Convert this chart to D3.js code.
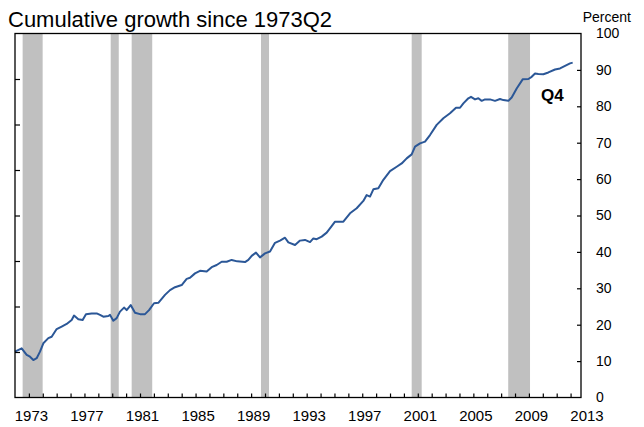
<!DOCTYPE html>
<html>
<head>
<meta charset="utf-8">
<script src="https://cdn.jsdelivr.net/npm/d3@7"></script>
<style>
  html, body { margin: 0; padding: 0; background: #fff; }
  svg { display: block; font-family: Arial, "Liberation Sans", sans-serif; }
</style>
</head>
<body>
<svg id="chart" width="644" height="427"></svg>
<script>
// ---- Data (x in axis-year units, values in percent) ----
const years = [
  1972.00, 1972.48, 1972.84, 1973.08, 1973.32, 1973.56, 1973.80, 1974.04, 1974.40, 1974.64,
  1975.00, 1975.36, 1975.72, 1976.08, 1976.25, 1976.56, 1976.87, 1977.11, 1977.52, 1977.88,
  1978.12, 1978.36, 1978.72, 1978.84, 1979.08, 1979.32, 1979.56, 1979.85, 1980.04, 1980.33,
  1980.64, 1981.00, 1981.36, 1981.65, 1982.01, 1982.32, 1982.80, 1983.16, 1983.52, 1984.00,
  1984.36, 1984.60, 1984.96, 1985.32, 1985.80, 1986.16, 1986.52, 1986.88, 1987.24, 1987.60,
  1988.00, 1988.56, 1988.80, 1989.04, 1989.35, 1989.64, 1990.00, 1990.36, 1990.72, 1991.08,
  1991.44, 1991.68, 1992.16, 1992.52, 1992.88, 1993.24, 1993.48, 1993.72, 1994.08, 1994.44,
  1994.80, 1995.04, 1995.64, 1996.12, 1996.60, 1997.08, 1997.32, 1997.56, 1997.80, 1998.16,
  1998.52, 1999.00, 1999.48, 1999.84, 2000.20, 2000.56, 2000.80, 2001.16, 2001.52, 2001.88,
  2002.36, 2002.84, 2003.32, 2003.75, 2004.04, 2004.28, 2004.64, 2004.83, 2005.12, 2005.36,
  2005.60, 2005.84, 2006.20, 2006.56, 2006.92, 2007.16, 2007.52, 2007.76, 2008.12, 2008.55,
  2008.96, 2009.20, 2009.44, 2009.68, 2010.04, 2010.40, 2010.88, 2011.24, 2011.60, 2011.96,
  2012.15
];
const growth = [
  12.6, 13.5, 11.7, 11.2, 10.3, 10.8, 12.6, 14.9, 16.3, 16.7,
  18.8, 19.5, 20.2, 21.3, 22.5, 21.5, 21.3, 22.9, 23.1, 23.1,
  22.7, 22.2, 22.4, 22.7, 21.1, 21.8, 23.6, 24.7, 24.0, 25.4,
  23.3, 22.9, 22.9, 24.0, 25.9, 26.0, 28.2, 29.5, 30.3, 30.9,
  32.6, 32.9, 34.1, 34.8, 34.6, 35.8, 36.4, 37.3, 37.3, 37.8,
  37.4, 37.2, 37.8, 38.9, 39.8, 38.5, 39.6, 40.1, 42.5, 43.1,
  43.9, 42.6, 41.9, 43.1, 43.3, 42.7, 43.7, 43.5, 44.2, 45.3,
  47.1, 48.3, 48.3, 50.6, 52.0, 54.0, 55.6, 55.2, 57.2, 57.5,
  59.8, 62.2, 63.4, 64.3, 65.7, 66.8, 68.9, 69.8, 70.3, 72.1,
  74.9, 76.7, 78.1, 79.6, 79.6, 80.8, 82.2, 82.6, 81.9, 82.2,
  81.5, 81.9, 81.9, 81.5, 82.0, 81.7, 81.5, 82.4, 84.9, 87.4,
  87.5, 88.1, 89.0, 88.9, 88.8, 89.3, 90.1, 90.4, 91.1, 91.8,
  92.0
];
const recessionStarts = [1972.55, 1978.89, 1980.40, 1989.71, 2000.56, 2007.51];
const recessionEnds   = [1973.99, 1979.47, 1981.88, 1990.29, 2001.28, 2009.08];
const xMinorTicks = d3.range(1973, 2013);           // yearly tick marks
const xLabels = [1973, 1977, 1981, 1985, 1989, 1993, 1997, 2001, 2005, 2009, 2013];
const yTicks = [0, 10, 20, 30, 40, 50, 60, 70, 80, 90, 100];
const leftTicks = [12.5, 25, 37.5, 50, 62.5, 75, 87.5];
const subtitle = "Cumulative growth since 1973Q2";
const unitLabel = "Percent";
const annotation = "Q4";

// ---- Layout ----
const svg = d3.select("#chart");
const L = 15, R = 581, T = 33.5, B = 397.5;
const x = d3.scaleLinear().domain([1972, 2012.75]).range([L, R]);
const y = d3.scaleLinear().domain([0, 100]).range([B, T]);

// recession shading
svg.append("g").selectAll("rect")
  .data(recessionStarts.map((s, i) => [s, recessionEnds[i]]))
  .join("rect")
  .attr("x", d => x(d[0]))
  .attr("width", d => x(d[1]) - x(d[0]))
  .attr("y", T)
  .attr("height", B - T)
  .attr("fill", "#c0c0c0");

// line
const line = d3.line().x((d, i) => x(years[i])).y(d => y(d)).curve(d3.curveLinear);
svg.append("path")
  .datum(growth)
  .attr("d", line)
  .attr("fill", "none")
  .attr("stroke", "#2b5797")
  .attr("stroke-width", 2)
  .attr("stroke-linejoin", "round");

// frame
svg.append("rect")
  .attr("x", L).attr("y", T).attr("width", R - L).attr("height", B - T)
  .attr("fill", "none").attr("stroke", "#000").attr("stroke-width", 1.3);

// bottom yearly ticks (inward)
const xTickAxis = d3.axisBottom(x).tickValues(xMinorTicks).tickSize(-4).tickFormat("");
svg.append("g").attr("transform", `translate(0,${B})`).call(xTickAxis)
  .call(g => g.select(".domain").remove())
  .call(g => g.selectAll("line").attr("stroke", "#000").attr("stroke-width", 1.2));

// bottom labels
const xLabelAxis = d3.axisBottom(x).tickValues(xLabels).tickSize(0).tickPadding(0).tickFormat(d3.format("d"));
svg.append("g").attr("transform", `translate(2,${B})`).call(xLabelAxis)
  .call(g => g.select(".domain").remove())
  .call(g => g.selectAll("text")
    .attr("y", 0).attr("dy", "23px")
    .attr("font-size", "15px")
    .attr("font-family", "Arial, 'Liberation Sans', sans-serif")
    .attr("fill", "#000"));

// right axis: inward ticks + labels
const yRight = d3.axisRight(y).tickValues(yTicks).tickSize(0).tickPadding(15);
svg.append("g").attr("transform", `translate(${R},0)`).call(yRight)
  .call(g => g.select(".domain").remove())
  .call(g => g.selectAll("text")
    .attr("font-size", "14px")
    .attr("font-family", "Arial, 'Liberation Sans', sans-serif")
    .attr("fill", "#000"));
svg.append("g").attr("transform", `translate(${R},0)`)
  .call(d3.axisLeft(y).tickValues(yTicks.filter(v => v > 0 && v < 100)).tickSize(4).tickFormat(""))
  .call(g => g.select(".domain").remove())
  .call(g => g.selectAll("line").attr("stroke", "#000").attr("stroke-width", 1.2));

// left axis: inward ticks (no labels)
svg.append("g").attr("transform", `translate(${L},0)`)
  .call(d3.axisRight(y).tickValues(leftTicks).tickSize(5).tickFormat(""))
  .call(g => g.select(".domain").remove())
  .call(g => g.selectAll("line").attr("stroke", "#000").attr("stroke-width", 1.2));

// texts
svg.append("text").attr("x", 8).attr("y", 27)
  .attr("font-size", "22px").attr("fill", "#000").text(subtitle);
svg.append("text").attr("x", 631).attr("y", 22).attr("text-anchor", "end")
  .attr("font-size", "14px").attr("fill", "#000").text(unitLabel);
svg.append("text").attr("x", 541).attr("y", 101)
  .attr("font-size", "17px").attr("font-weight", "bold").attr("fill", "#000").text(annotation);
</script>
</body>
</html>
